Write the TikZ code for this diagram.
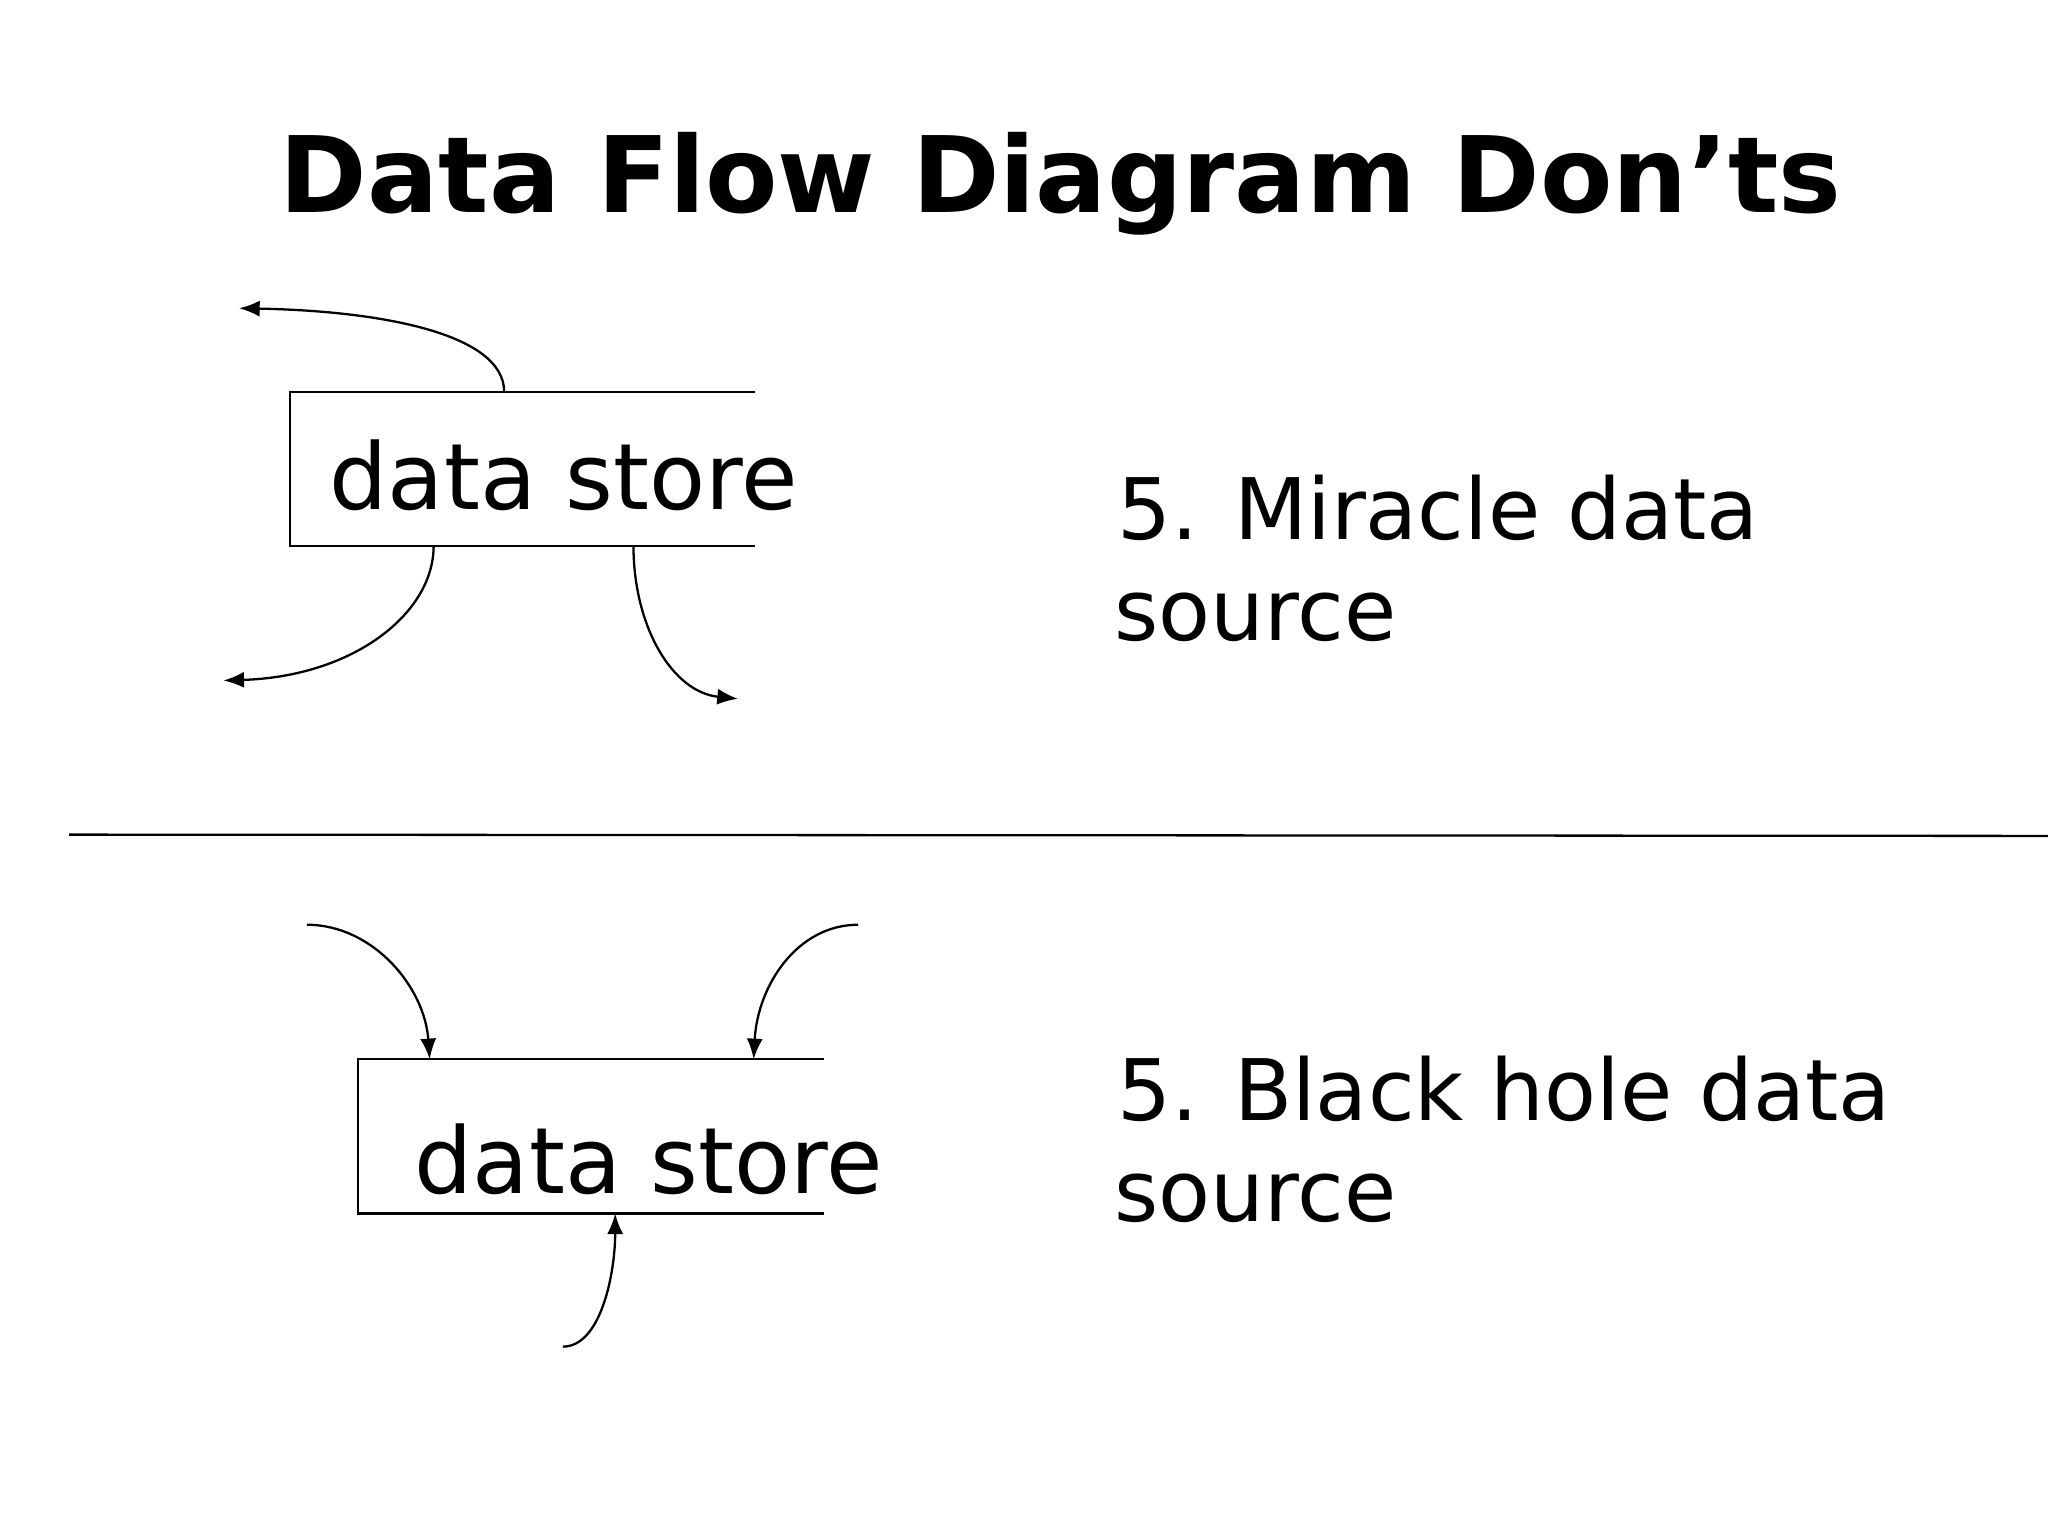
\documentclass[tikz,border=0pt]{standalone}
\usepackage{fontspec}
\setmainfont{DejaVu Sans}
\usetikzlibrary{arrows.meta}
\begin{document}
\begin{tikzpicture}[x=0.02cm,y=-0.02cm,
  ln/.style={line width=1pt},
  flow/.style={line width=1pt,-{Latex[length=9pt,width=7pt]}},
  body/.style={font=\fontsize{40}{48}\selectfont,inner sep=0pt,anchor=base west},
  lab/.style={font=\fontsize{37}{44}\selectfont,inner sep=0pt,anchor=base west}]
\useasboundingbox (0,0) rectangle (1568,1176);
\node[font=\bfseries\fontsize{46}{54}\selectfont,inner sep=0pt,anchor=base] (title) at (812,163) {Data Flow Diagram Don’ts};
% top store
\coordinate (t1) at (222,300); \coordinate (t2) at (578,300);
\coordinate (b1) at (222,418); \coordinate (b2) at (578,418);
\draw[ln] (t2) -- (t1) -- (b1) -- (b2);
\node[body] (ds1) at (252,390) {data store};
\coordinate (s1) at (386,300); \coordinate (e1) at (183,236);
\coordinate (s2) at (332,418); \coordinate (e2) at (171,521);
\coordinate (s3) at (485,418); \coordinate (e3) at (565,535);
\draw[flow] (s1) .. controls (386,255) and (290,238) .. (e1);
\draw[flow] (s2) .. controls (332,470) and (270,518) .. (e2);
\draw[flow] (s3) .. controls (485,480) and (515,530) .. (e3);
\node[lab] (l1a) at (855,413) {5. Miracle data};
\node[lab] (l1b) at (853,490) {source};
% divider
\coordinate (d1) at (53,639); \coordinate (d2) at (1568,640);
\draw[line width=1pt] (d1) -- (d2);
% bottom store
\coordinate (u1) at (274,811); \coordinate (u2) at (631,811);
\coordinate (v1) at (274,929); \coordinate (v2) at (631,929);
\draw[ln] (u2) -- (u1) -- (v1) -- (v2);
\node[body] (ds2) at (317,914) {data store};
\coordinate (a1) at (235,708); \coordinate (f1) at (329,811);
\coordinate (a2) at (657,708); \coordinate (f2) at (577,811);
\coordinate (a3) at (431,1031); \coordinate (f3) at (471,929);
\draw[flow] (a1) .. controls (285,708) and (325,755) .. (f1);
\draw[flow] (a2) .. controls (610,708) and (580,755) .. (f2);
\draw[flow] (a3) .. controls (460,1031) and (471,975) .. (f3);
\node[lab] (l2a) at (855,858) {5. Black hole data};
\node[lab] (l2b) at (853,935) {source};
\end{tikzpicture}
\end{document}
